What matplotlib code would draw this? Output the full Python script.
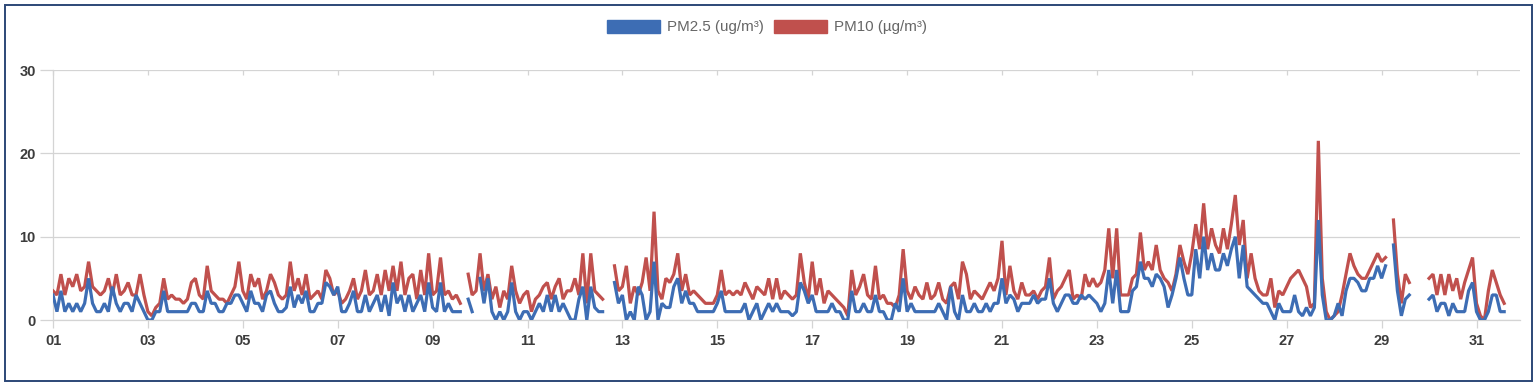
import numpy as np
import matplotlib
matplotlib.use("Agg")
import matplotlib.pyplot as plt
from matplotlib.patches import Patch, Rectangle

nan = float("nan")

# sampling step of the readings (hours); series start on day 01 at 00:00
step_hours = 2

# PM2.5 (ug/m3), one row per day, 12 readings per day (2-hourly)
pm25 = [
    3, 1, 3.5, 1, 2, 1, 2, 1, 2, 5, 2, 1,            # 01
    1, 2, 1, 4, 2, 1, 2, 2, 1, 3, 2, 1,              # 02
    0, 0, 1, 1, 3.5, 1, 1, 1, 1, 1, 1, 2,            # 03
    2, 1, 1, 3.5, 2, 2, 1, 1, 2, 2, 3, 3,            # 04
    2, 1, 3.5, 2, 2, 1, 3, 3.5, 2, 1, 1, 1.5,        # 05
    4, 1.5, 3, 2, 3.5, 1, 1, 2, 2, 4.5, 4, 3,        # 06
    4, 1, 1, 2, 3.5, 1, 1, 3, 1, 2, 3, 1,            # 07
    3, 0.5, 4.5, 2, 3, 1, 3, 1, 2, 3, 1, 4.5,        # 08
    1.5, 1, 4.5, 1, 2, 1, 1, 1, nan, 2.5, 1, nan,    # 09
    5, 2, 5, 1, 0, 1, 0, 1, 4.5, 1, 0, 1,            # 10
    1, 0, 1, 2, 1, 3, 1, 3, 1, 2, 1, 0,              # 11
    0, 2.5, 4, 0, 4, 1.5, 1, 1, nan, nan, 4.5, 2,    # 12
    3, 0, 1, 0, 4, 3, 0, 1, 7, 0, 2, 1.5,            # 13
    1.5, 4, 5, 2, 3.5, 2, 2, 1, 1, 1, 1, 1,          # 14
    2, 3.5, 1, 1, 1, 1, 1, 2, 0, 1, 2, 0,            # 15
    1, 2, 1, 2, 1, 1, 1, 0.5, 1, 4.5, 3.5, 2,        # 16
    3, 1, 1, 1, 1, 2, 1, 1, 0, 0, 3.5, 1,            # 17
    1, 2, 1, 1, 3, 1, 1, 0, 0, 2, 1, 5,              # 18
    1, 2, 1, 1, 1, 1, 1, 1, 2, 1, 0, 4,              # 19
    1, 0, 3, 1, 1, 2, 1, 1, 2, 1, 2, 2,              # 20
    5, 2, 3, 2.5, 1, 2, 2, 2, 3, 2, 2.5, 2.5,        # 21
    5, 2, 1, 2, 3, 3, 2, 2, 3, 2.5, 3, 2.5,          # 22
    2, 1, 2, 6, 2, 6, 1, 1, 1, 3.5, 4, 7,            # 23
    5, 5, 4, 5.5, 5, 4, 1.5, 3, 5, 7.5, 5, 3,        # 24
    3, 8.5, 5, 10, 6, 8, 6, 6, 8, 6.5, 8.5, 10,      # 25
    5, 9, 4, 3.5, 3, 2.5, 2, 2, 1, 0, 2, 1,          # 26
    1, 1, 3, 1, 0.5, 1.5, 0.5, 1.5, 12, 3, 0, 0,     # 27
    0.5, 2, 0.5, 3.5, 5, 5, 4.5, 3.5, 3.5, 5, 5, 6.5,  # 28
    5, 6.5, nan, 9, 3.5, 0.5, 2.5, 3, nan, nan, nan, nan,  # 29
    2.5, 3, 1, 2, 2, 0.5, 2, 1, 1, 1, 3.5, 4.5,      # 30
    1, 0, 0, 1, 3, 3, 1, 1,                          # 31
]

# PM10 (ug/m3), same timestamps
pm10 = [
    3.5, 3, 5.5, 3, 5, 4, 5.5, 3.5, 4, 7, 4, 3.5,        # 01
    3, 3.5, 5, 3, 5.5, 3, 3.5, 4.5, 3, 3, 5.5, 3,        # 02
    1, 0.5, 1.5, 2, 5, 2.5, 3, 2.5, 2.5, 2, 2.5, 4.5,    # 03
    5, 3, 2.5, 6.5, 3.5, 3, 2.5, 2.5, 2, 3, 4, 7,        # 04
    3.5, 2.5, 5.5, 4, 5, 2.5, 3.5, 5.5, 4.5, 3, 2.5, 3,  # 05
    7, 3.5, 5, 3, 5.5, 2.5, 3, 3.5, 2.5, 6, 5, 3,        # 06
    3.5, 2, 2.5, 3.5, 5, 2.5, 3.5, 6, 3, 3.5, 5.5, 3,    # 07
    6, 3.5, 6.5, 3.5, 7, 3, 5, 5.5, 2.5, 6, 3, 8,        # 08
    3, 3.5, 7.5, 3, 3.5, 2.5, 3, 2, nan, 5.5, 3, 3.5,    # 09
    8, 3.5, 5.5, 2.5, 4, 1.5, 3.5, 2.5, 6.5, 3.5, 2, 3,  # 10
    3.5, 1, 2.5, 3, 4, 4.5, 2.5, 4, 5, 2.5, 3.5, 3.5,    # 11
    5, 3, 8, 2, 8, 3.5, 3, 2.5, nan, nan, 6.5, 3.5,      # 12
    4, 6.5, 2, 4, 3, 4.5, 7.5, 3.5, 13, 3.5, 2.5, 5,     # 13
    4.5, 5.5, 8, 3.5, 5.5, 3, 3.5, 3, 2.5, 2, 2, 2,      # 14
    3, 6, 3, 3.5, 3, 3.5, 3, 4.5, 3.5, 2.5, 4, 3.5,      # 15
    3, 5, 2.5, 5, 2.5, 3.5, 3, 2.5, 3, 8, 4.5, 2.5,      # 16
    7, 3, 5, 2, 3.5, 3, 2.5, 2, 1.5, 0.5, 6, 3,          # 17
    4, 5.5, 3, 2.5, 6.5, 2.5, 3, 2, 2, 1.5, 3, 8.5,      # 18
    3.5, 2.5, 4, 3, 2.5, 4.5, 2.5, 3, 4.5, 2.5, 2, 4,    # 19
    4.5, 2.5, 7, 5.5, 2.5, 3.5, 3, 2.5, 3.5, 4.5, 3.5, 5,  # 20
    9.5, 3, 6.5, 3.5, 2.5, 4.5, 3, 3, 3.5, 2.5, 3.5, 4,  # 21
    7.5, 2.5, 3.5, 4, 5, 6, 2.5, 3, 2.5, 5.5, 4, 5,      # 22
    4, 4.5, 6, 11, 5, 11, 3, 3, 3, 5, 5.5, 10.5,         # 23
    6, 7, 6, 9, 6, 5, 4.5, 3.5, 5.5, 9, 7, 5.5,          # 24
    8, 11.5, 8.5, 14, 8.5, 11, 9, 8, 11, 8.5, 11.5, 15,  # 25
    9, 12, 5, 8, 5, 3.5, 3, 3, 5, 1.5, 3.5, 3,           # 26
    4, 5, 5.5, 6, 5, 4, 1.5, 2, 21.5, 5, 1, 0,           # 27
    0.5, 1, 3, 5.5, 8, 6.5, 5.5, 5, 5, 6, 7, 8,          # 28
    7, 7.5, nan, 12, 5.5, 2, 5.5, 4.5, nan, nan, nan, nan,  # 29
    5, 5.5, 3, 5.5, 3, 5.5, 3.5, 5, 2.5, 4.5, 6, 7.5,    # 30
    2, 0.5, 0, 3.5, 6, 4.5, 3, 2,                        # 31
]

day_labels = ["01", "03", "05", "07", "09", "11", "13", "15",
              "17", "19", "21", "23", "25", "27", "29", "31"]
y_ticks = [0, 10, 20, 30]

series_names = ["PM2.5 (ug/m\u00b3)", "PM10 (\u00b5g/m\u00b3)"]
blue = "#3d6db4"
red = "#c0504d"
grid_col = "#d4d4d4"
label_col = "#3c3c3c"

plt.rcParams["font.family"] = ["Liberation Sans", "DejaVu Sans"]

W, H = 1539, 386
fig = plt.figure(figsize=(W / 100, H / 100), dpi=100)
ax = fig.add_axes([53 / W, 66 / H, (1520 - 53) / W, 250 / H])

t = np.arange(len(pm25)) * step_hours / 24.0
y25 = np.array(pm25, dtype=float)
y10 = np.array(pm10, dtype=float)

ax.plot(t, y10, color=red, lw=2.3, solid_joinstyle="bevel", zorder=3)
ax.plot(t, y25, color=blue, lw=2.3, solid_joinstyle="bevel", zorder=4)

ax.set_xlim(0, (1520 - 53) / 47.45)
ax.set_ylim(0, 30)

ax.set_yticks(y_ticks)
ax.set_yticklabels([str(v) for v in y_ticks])
ax.set_xticks([int(d) - 1 for d in day_labels])
ax.set_xticklabels(day_labels)

ax.grid(axis="y", color=grid_col, lw=0.9, zorder=0)
for s in ["top", "right"]:
    ax.spines[s].set_visible(False)
for s in ["left", "bottom"]:
    ax.spines[s].set_color(grid_col)
    ax.spines[s].set_linewidth(0.9)
    ax.spines[s].set_zorder(1)

ax.tick_params(axis="y", length=9.5, width=0.9, color=grid_col, pad=3,
               labelsize=10.5, labelcolor=label_col)
ax.tick_params(axis="x", length=6, width=0.9, color=grid_col, pad=4,
               labelsize=10.5, labelcolor=label_col, top=True, direction="out")
for lab in ax.get_xticklabels() + ax.get_yticklabels():
    lab.set_fontweight("bold")
# short marks hanging under the top gridline
for tl in ax.xaxis.get_major_ticks():
    tl.tick2line.set_marker(matplotlib.markers.TICKDOWN)
    tl.tick2line.set_markersize(3.5)

handles = [Patch(facecolor=blue, edgecolor=blue), Patch(facecolor=red, edgecolor=red)]
fig.legend(handles, series_names, loc="center", bbox_to_anchor=(767 / W, 1 - 27 / H),
           ncol=2, frameon=False, fontsize=10.9, labelcolor="#666666",
           handlelength=3.5, handleheight=1.0, handletextpad=0.45,
           columnspacing=0.65, borderaxespad=0)

fig.patches.append(Rectangle((5 / W, 5 / H), (1532 - 5) / W, (381 - 5) / H,
                             transform=fig.transFigure, fill=False,
                             edgecolor="#2c4777", lw=1.4, zorder=10))

fig.savefig("out.png", dpi=100)
